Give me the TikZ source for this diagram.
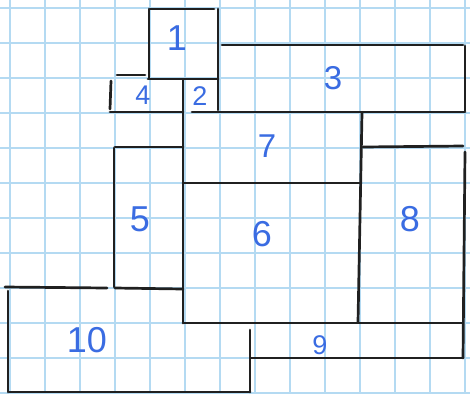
\documentclass[tikz,border=0pt]{standalone}
\usepackage{fontspec}
\setmainfont{Liberation Sans}
\definecolor{gridblue}{RGB}{180,218,242}
\definecolor{inkblack}{RGB}{32,32,32}
\definecolor{inkblue}{RGB}{58,108,226}
\tikzset{
  gridline/.style={draw=gridblue, line width=1.4pt},
  wall/.style={draw=inkblack, line width=2.7pt, line cap=round},
  numlbl/.style={text=inkblue, inner sep=0pt, font=\fontsize{36}{36}\selectfont},
  smalllbl/.style={numlbl, font=\fontsize{27}{27}\selectfont},
  midlbl/.style={numlbl, font=\fontsize{33}{33}\selectfont}
}
\begin{document}
\begin{tikzpicture}[x=1pt,y=-1pt]
\useasboundingbox (0,0) rectangle (470,394);
\fill[white] (0,0) rectangle (470,394);
% grid paper
\foreach \c in {0,...,13} {\draw[gridline] ({10+35*\c},0) -- ({10+35*\c},394);}
\foreach \r in {0,...,11} {\draw[gridline] (0,{8+35*\r}) -- (470,{8+35*\r});}
% rooms
% box 1
\draw[wall] (150,9) -- (214,9);
\draw[wall] (149,9) -- (149,78);
\draw[wall] (218,9) -- (218,110);
\draw[wall] (148,79) -- (218,79);
% box 3
\draw[wall] (222,45) -- (463,45);
\draw[wall] (465,46) -- (465,111);
% box 4
\draw[wall] (117,75) -- (145,75);
\draw[wall] (111,81) -- (110,109);
\draw[wall] (110,112) -- (183,112);
% common vertical 2/7/5/6
\draw[wall] (183,80) -- (183,323);
% box 7
\draw[wall] (192,112) -- (465,112);
\draw[wall] (183,183) -- (360,183);
\draw[wall] (362,113) -- (358,322);
% box 8
\draw[wall] (363,147) -- (463,146);
\draw[wall] (465,152) -- (463,358);
% box 6 / 8 bottom
\draw[wall] (183,323) -- (462,323);
% box 9
\draw[wall] (250,330) -- (250,392);
\draw[wall] (251,358) -- (463,358);
% box 5
\draw[wall] (115,147) -- (183,147);
\draw[wall] (114,148) -- (114,287);
\draw[wall] (115,288) -- (183,289);
% box 10
\draw[wall] (5,287) -- (107,288);
\draw[wall] (8,291) -- (8,392);
\draw[wall] (9,392) -- (250,392);
% labels
\node[numlbl] (l1) at (177,38) {1};
\node[smalllbl] (l2) at (200,96) {2};
\node[smalllbl] (l4) at (143,95) {4};
\node[midlbl] (l3) at (333,78) {3};
\node[midlbl] (l7) at (267,146) {7};
\node[numlbl] (l5) at (140,219) {5};
\node[numlbl] (l6) at (262,234) {6};
\node[numlbl] (l8) at (410,219) {8};
\node[smalllbl] (l9) at (320,345) {9};
\node[numlbl] (l10) at (87,340) {10};
\end{tikzpicture}
\end{document}
